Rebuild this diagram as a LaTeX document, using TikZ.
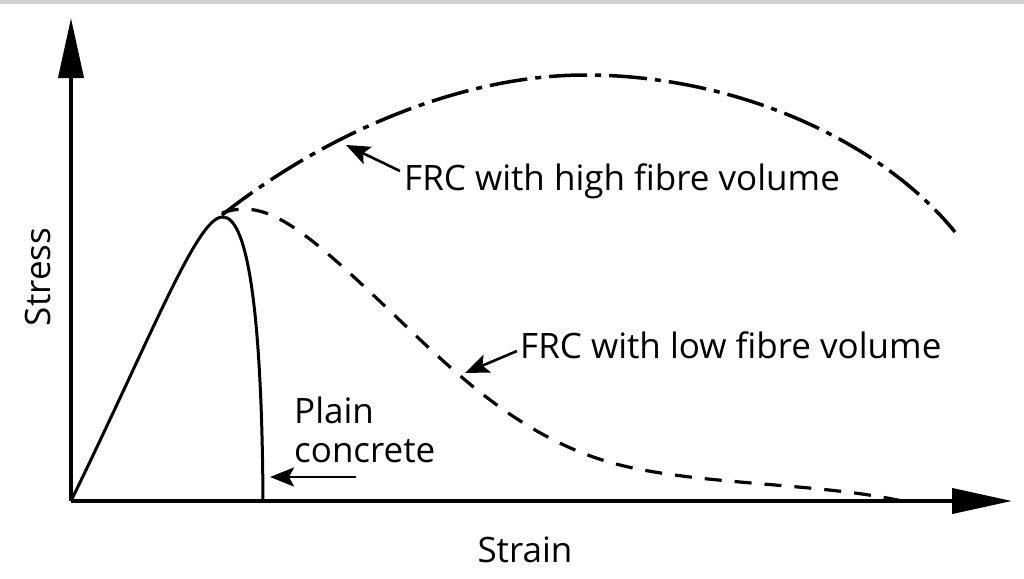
\documentclass[tikz,border=0pt]{standalone}
\usepackage{fontspec}
\setmainfont{Open Sans}
\usetikzlibrary{arrows.meta}
\begin{document}
\begin{tikzpicture}[x=1pt,y=-1pt,
  axis/.style={line width=4pt,-{Triangle[length=60pt,width=25pt]}},
  plaincurve/.style={line width=3pt},
  hicurve/.style={line width=3.5pt,dash pattern=on 38pt off 8pt on 6pt off 8pt},
  locurve/.style={line width=3.2pt,dash pattern=on 17pt off 13pt},
  pointer/.style={line width=2.6pt,-{Stealth[length=24pt,width=19pt,inset=5pt]}},
  lbl/.style={font=\fontsize{35}{38}\selectfont,inner sep=0pt}]
\useasboundingbox (0,0) rectangle (1024,578);
\fill[white] (0,0) rectangle (1024,578);
\fill[gray!35] (0,0) rectangle (1024,4);
% axes
\coordinate (O) at (71,501);
\coordinate (ytip) at (71,18);
\coordinate (xtip) at (1012,501);
\draw[axis] (O) -- (ytip);
\draw[axis] (O) -- (xtip);
% plain concrete
\coordinate (peak) at (222,217);
\coordinate (plEnd) at (263,501);
\draw[plaincurve] (O) .. controls (152,335) and (197,218) .. (peak)
  .. controls (250,215) and (262,330) .. (plEnd);
% high fibre
\coordinate (hiStart) at (222,215);
\coordinate (hiMax) at (585,75);
\coordinate (hiEnd) at (955,232);
\draw[hicurve] (hiStart) .. controls (330,130) and (465,75) .. (hiMax)
  .. controls (735,75) and (880,140) .. (hiEnd);
% low fibre
\coordinate (loStart) at (222,213);
\coordinate (loA) at (389,310);
\coordinate (loB) at (620,465);
\coordinate (loEnd) at (902,501);
\draw[locurve] (loStart) .. controls (265,198) and (300,225) .. (loA)
  .. controls (449,367) and (520,440) .. (loB)
  .. controls (700,485) and (820,483) .. (loEnd);
% labels
\node[lbl,anchor=base west] (hi) at (404,190) {FRC with high fibre volume};
\node[lbl,anchor=base west] (lo) at (520,358) {FRC with low fibre volume};
\node[lbl,anchor=base west] (pl1) at (294,423) {Plain};
\node[lbl,anchor=base west] (pl2) at (294,462) {concrete};
\node[lbl,anchor=base,rotate=90] (stress) at (50,277) {Stress};
\node[lbl,anchor=base] (strain) at (525,562) {Strain};
% pointers
\coordinate (hiS) at (400,171);
\coordinate (hiP) at (346,145);
\coordinate (loS) at (517,351);
\coordinate (loP) at (465,373);
\coordinate (plP) at (270,477);
\coordinate (plS) at (356,477);
\draw[pointer] (hiS) -- (hiP);
\draw[pointer] (loS) -- (loP);
\draw[pointer] (plS) -- (plP);
\end{tikzpicture}
\end{document}
